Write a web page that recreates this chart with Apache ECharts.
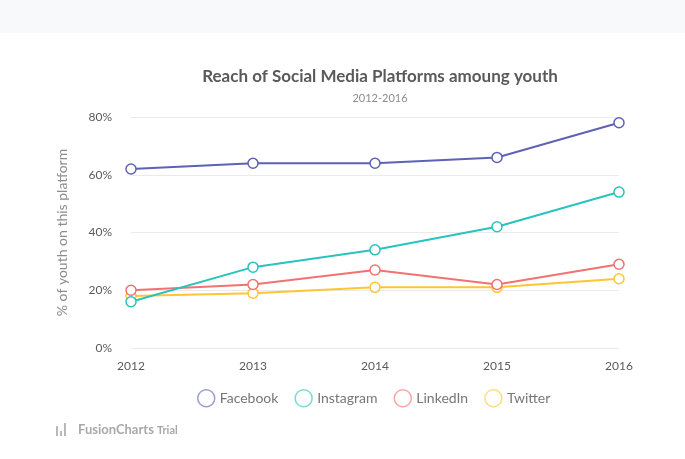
<!DOCTYPE html>
<html><head><meta charset="utf-8">
<script src="https://cdn.jsdelivr.net/npm/echarts@6/dist/echarts.min.js"></script>
<style>html,body{margin:0;padding:0;background:#fff}#c{width:685px;height:459px}</style>
</head><body><div id="c"></div>
<script>
const years = ['2012','2013','2014','2015','2016'];
const facebook = [62, 64, 64, 66, 78];
const instagram = [16, 28, 34, 42, 54];
const linkedin = [20, 22, 27, 22, 29];
const twitter = [18, 19, 21, 21, 24];
const yTicks = [0, 20, 40, 60, 80];

const names = ['Facebook','Instagram','LinkedIn','Twitter'];
const colors = ['#5d62b5','#29c3be','#f2726f','#ffc533'];
const light = ['#9b9ed0','#7fd9d6','#f6a7a5','#ffdc85'];
const datas = [facebook, instagram, linkedin, twitter];
const font = 'Lato, "Open Sans", sans-serif';

const chart = echarts.init(document.getElementById('c'));
chart.setOption({
  animation: false,
  backgroundColor: '#ffffff',
  textStyle: {fontFamily: font},
  title: [{
    text: 'Reach of Social Media Platforms amoung youth',
    left: 375, top: 63, textAlign: 'center',
    textStyle: {fontFamily: font, fontSize: 17, fontWeight: 'bold', color: '#5a5a5a'}
  },{
    text: '2012-2016',
    left: 375, top: 88, textAlign: 'center',
    textStyle: {fontFamily: font, fontSize: 11, fontWeight: 'normal', color: '#8c8c8c'}
  }],
  graphic: [
    {type: 'rect', left: 0, top: 0, shape: {width: 685, height: 33}, style: {fill: '#f8f9fb'}, silent: true},
    {type: 'rect', left: 56, top: 426, shape: {width: 2, height: 10}, style: {fill: '#b8b8b8'}},
    {type: 'rect', left: 60, top: 431, shape: {width: 2, height: 5}, style: {fill: '#b8b8b8'}},
    {type: 'rect', left: 64, top: 423, shape: {width: 2, height: 13}, style: {fill: '#b8b8b8'}},
    {type: 'text', left: 78, top: 423, style: {text: 'FusionCharts', fontFamily: font, fontSize: 13, fontWeight: 'bold', fill: '#a8a8a8'}},
    {type: 'text', left: 157, top: 425, style: {text: 'Trial', fontFamily: font, fontSize: 11, fontWeight: 'bold', fill: '#a8a8a8'}}
  ],
  legend: {
    data: names.map((n, i) => ({name: n, icon: 'circle', itemStyle: {color: '#fff', borderColor: light[i], borderWidth: 1.5}})),
    left: 192, top: 384,
    orient: 'horizontal',
    itemWidth: 17, itemHeight: 17, itemGap: 16,
    textStyle: {fontFamily: font, fontSize: 14, color: '#777'}
  },
  grid: {left: 131, right: 66, top: 117, bottom: 111, containLabel: false},
  xAxis: {
    type: 'category', data: years, boundaryGap: false,
    axisLine: {show: false}, axisTick: {show: false},
    axisLabel: {color: '#5a5a5a', fontSize: 12, margin: 12, fontFamily: font},
    splitLine: {show: false}
  },
  yAxis: {
    type: 'value', min: 0, max: 80, interval: 20,
    axisLine: {show: false}, axisTick: {show: false},
    axisLabel: {color: '#5a5a5a', fontSize: 12, margin: 19, fontFamily: font,
      formatter: v => yTicks.includes(v) ? v + '%' : ''},
    splitLine: {lineStyle: {color: '#eaeaea', width: 1}},
    name: '% of youth on this platform', nameLocation: 'middle', nameGap: 62, nameRotate: 90,
    nameTextStyle: {color: '#8c8c8c', fontSize: 14, fontFamily: font}
  },
  series: datas.map((d, i) => ({
    name: names[i], type: 'line', data: d,
    symbol: 'circle', symbolSize: 10, showAllSymbol: true,
    lineStyle: {color: colors[i], width: 2},
    itemStyle: {color: '#fff', borderColor: colors[i], borderWidth: 1.5},
    z: 10 - i
  }))
});
</script></body></html>
